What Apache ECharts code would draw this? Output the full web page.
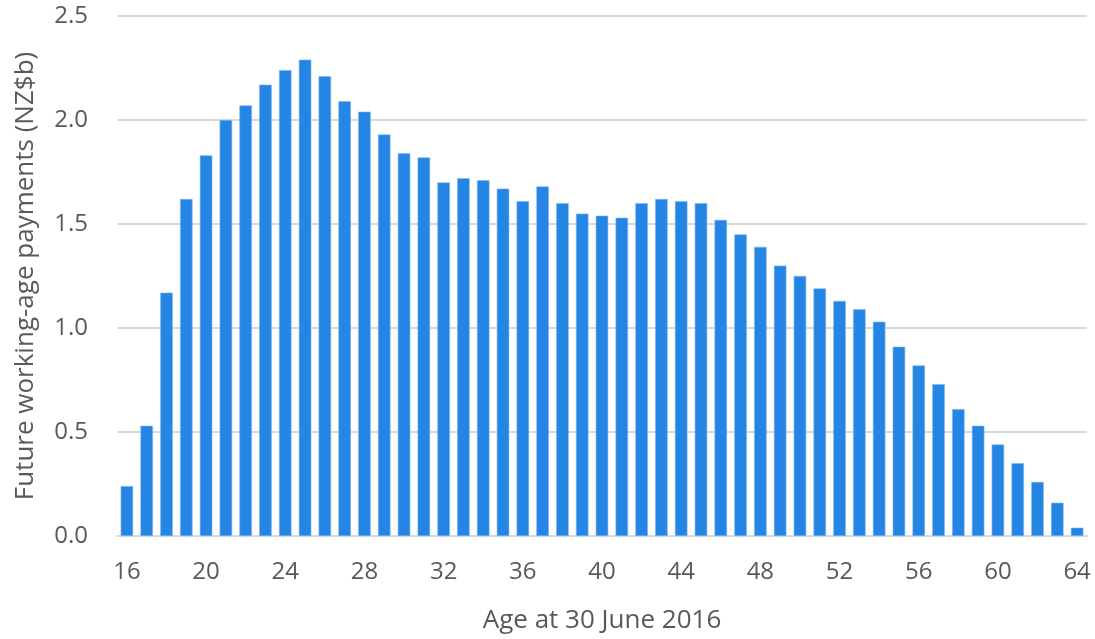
<!DOCTYPE html>
<html>
<head>
<meta charset="utf-8">
<script src="https://cdn.jsdelivr.net/npm/echarts@6/dist/echarts.min.js"></script>
<style>
  html, body { margin: 0; padding: 0; background: #ffffff; }
  #chart { width: 1095px; height: 639px; }
</style>
</head>
<body>
<div id="chart"></div>
<script>
// Age at 30 June 2016, 16 to 64
const ages = [16,17,18,19,20,21,22,23,24,25,26,27,28,29,30,31,32,33,34,35,36,37,38,39,40,
  41,42,43,44,45,46,47,48,49,50,51,52,53,54,55,56,57,58,59,60,61,62,63,64];

// Future working-age payments (NZ$b) for each age
const payments = [0.24,0.53,1.17,1.62,1.83,2.00,2.07,2.17,2.24,2.29,2.21,2.09,2.04,1.93,1.84,
  1.82,1.70,1.72,1.71,1.67,1.61,1.68,1.60,1.55,1.54,1.53,1.60,1.62,1.61,1.60,1.52,1.45,
  1.39,1.30,1.25,1.19,1.13,1.09,1.03,0.91,0.82,0.73,0.61,0.53,0.44,0.35,0.26,0.16,0.04];

const yTicks = { min: 0, max: 2.5, interval: 0.5 };

const chart = echarts.init(document.getElementById('chart'), null, { renderer: 'canvas' });
const textColor = '#595959';
const font = '"Open Sans", "Liberation Sans", sans-serif';

chart.setOption({
  animation: false,
  backgroundColor: '#ffffff',
  grid: { left: 117, right: 8, top: 16, bottom: 103, containLabel: false },
  xAxis: {
    type: 'category',
    data: ages.map(String),
    boundaryGap: true,
    name: 'Age at 30 June 2016',
    nameLocation: 'middle',
    nameGap: 72,
    nameTextStyle: { color: textColor, fontSize: 26, fontFamily: font },
    axisLine: { show: true, lineStyle: { color: '#d9d9d9', width: 2 } },
    axisTick: { show: false },
    axisLabel: {
      interval: 3,
      color: textColor,
      fontSize: 24,
      fontFamily: font,
      margin: 24
    }
  },
  yAxis: {
    type: 'value',
    min: yTicks.min,
    max: yTicks.max,
    interval: yTicks.interval,
    name: 'Future working-age payments (NZ$b)',
    nameLocation: 'middle',
    nameGap: 78,
    nameTextStyle: { color: textColor, fontSize: 26, fontFamily: font },
    axisLine: { show: false },
    axisTick: { show: false },
    axisLabel: {
      color: textColor,
      fontSize: 24,
      fontFamily: font,
      margin: 29,
      formatter: v => v.toFixed(1)
    },
    splitLine: { show: true, lineStyle: { color: '#d9d9d9', width: 2 } }
  },
  series: [{
    type: 'bar',
    data: payments,
    barCategoryGap: '37%',
    itemStyle: { color: '#2485e5', borderColor: '#7db3ee', borderWidth: 0.6 }
  }]
});
</script>
</body>
</html>
